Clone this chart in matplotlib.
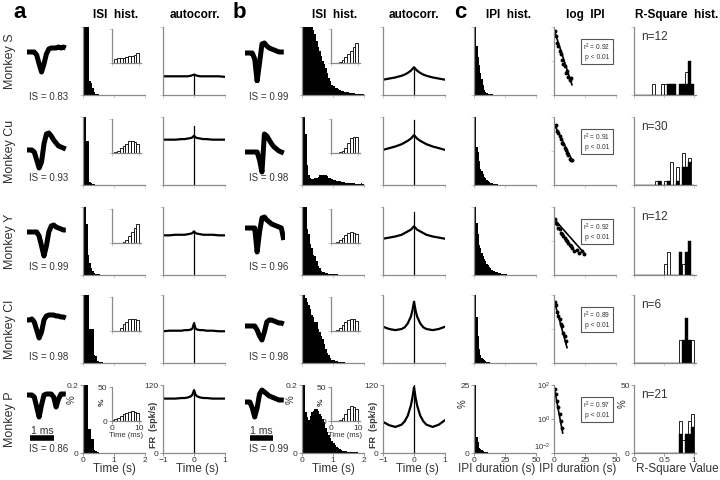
import matplotlib
matplotlib.use('Agg')
import numpy as np
import matplotlib.pyplot as plt
from matplotlib.lines import Line2D
from matplotlib.ticker import NullLocator, FixedLocator

plt.rcParams['font.family'] = ['Liberation Sans', 'DejaVu Sans']
plt.rcParams['mathtext.fontset'] = 'custom'
plt.rcParams['mathtext.rm'] = 'Liberation Sans'

# ---------------- data ----------------
monkeys = ['Monkey S', 'Monkey Cu', 'Monkey Y', 'Monkey Cl', 'Monkey P']
is_a = ['0.83', '0.93', '0.99', '0.98', '0.86']
is_b = ['0.99', '0.98', '0.96', '0.98', '0.99']
n_units = [12, 30, 12, 6, 21]
r2_fit = ['0.92', '0.91', '0.92', '0.89', '0.97']

wave_t = [0.0, 0.1, 0.2, 0.3, 0.4, 0.5, 0.6, 0.7, 0.8, 0.9, 1.0, 1.1, 1.2, 1.3, 1.4, 1.5, 1.6]
wave_a_S = [0, 0, 0, 0, -0.15, -0.6, -1.0, -0.6, -0.1, 0.15, 0.2, 0.2, 0.2, 0.25, 0.2, 0.25, 0.2]
wave_a_Cu = [0, 0, 0, -0.1, -0.5, -0.9, -0.6, 0.3, 0.8, 0.85, 0.7, 0.5, 0.35, 0.2, 0.15, 0.1, 0.05]
wave_a_Y = [0, 0, 0, 0, 0, -0.2, -0.7, -1.2, -0.7, 0, 0.3, 0.35, 0.25, 0.2, 0.15, 0.1, 0.1]
wave_a_Cl = [0, 0, 0.05, -0.1, -0.5, -0.9, -0.6, 0, 0.2, 0.25, 0.25, 0.25, 0.2, 0.2, 0.15, 0.15, 0.1]
wave_a_P = [0, 0, 0, -0.1, -0.6, -1.1, -0.5, 0, 0.05, 0.05, 0.05, -0.1, -0.6, -0.2, 0.05, 0.05, 0.05]
wave_b_S = [0, 0, 0, 0, -0.3, -1.4, -0.5, 0.45, 0.5, 0.35, 0.25, 0.2, 0.15, 0.1, 0.05, 0.05, 0.05]
wave_b_Cu = [0, 0, 0, 0, 0, 0, -0.4, -1.0, 0.9, 0.8, 0.6, 0.4, 0.25, 0.15, 0.05, 0, -0.05]
wave_b_Y = [0, 0, 0, 0, 0, -1.2, -0.2, 0.5, 0.55, 0.4, 0.3, 0.2, 0.15, 0.1, 0.05, 0, -0.6]
wave_b_Cl = [0, 0, 0, 0, 0, -0.2, -0.5, -0.7, -0.3, 0.2, 0.3, 0.3, 0.25, 0.2, 0.15, 0.15, 0.1]
wave_b_P = [0, 0, 0, -0.3, -0.75, -0.3, 0.4, 0.6, 0.5, 0.4, 0.3, 0.25, 0.2, 0.15, 0.1, 0.1, 0.1]

isi_bin = 0.05
isi_a_S = [0.2, 0.2, 0.2, 0.2, 0.04, 0.035, 0.02, 0.008, 0.004, 0.002, 0.001, 0.001, 0, 0, 0.001]
isi_a_Cu = [0.2, 0.2, 0.13, 0.13, 0.01, 0.006, 0.003, 0.002, 0.001]
isi_a_Y = [0.2, 0.2, 0.15, 0.06, 0.035, 0.02, 0.012, 0.006, 0.004, 0.003, 0.002]
isi_a_Cl = [0.2, 0.2, 0.2, 0.2, 0.1, 0.1, 0.1, 0.025, 0.02, 0.006, 0.004, 0.003, 0.002]
isi_a_P = [0.2, 0.2, 0.2, 0.07, 0.07, 0.04, 0.04, 0.01, 0.005, 0.002]
isi_b_S = [0.2, 0.2, 0.2, 0.2, 0.2, 0.2, 0.2, 0.19, 0.18, 0.16, 0.14, 0.13, 0.115, 0.1, 0.09, 0.08,
           0.065, 0.05, 0.04, 0.03, 0.027, 0.022, 0.02, 0.017, 0.015, 0.013, 0.012, 0.01, 0.01, 0.008,
           0.007, 0.006, 0.006, 0.005, 0.004, 0.004, 0.003, 0.003, 0.004, 0.002]
isi_b_Cu = [0.2, 0.2, 0.15, 0.06, 0.03, 0.02, 0.018, 0.018, 0.02, 0.022, 0.025, 0.028, 0.03, 0.03, 0.03,
            0.028, 0.026, 0.022, 0.02, 0.018, 0.016, 0.015, 0.013, 0.012, 0.011, 0.01, 0.009, 0.008,
            0.007, 0.007, 0.006, 0.006, 0.005, 0.005, 0.004, 0.004, 0.004, 0.003, 0.006, 0.002]
isi_b_Y = [0.2, 0.2, 0.2, 0.135, 0.12, 0.09, 0.08, 0.06, 0.055, 0.04, 0.026, 0.02, 0.012, 0.01, 0.008,
           0.006, 0.005, 0.004, 0.003, 0.003, 0.002, 0.002, 0.002]
isi_b_Cl = [0.2, 0.2, 0.19, 0.18, 0.17, 0.16, 0.14, 0.135, 0.12, 0.12, 0.1, 0.09, 0.08, 0.07, 0.055,
            0.04, 0.03, 0.024, 0.015, 0.01, 0.008, 0.006, 0.005, 0.004, 0.004, 0.003, 0.003, 0.002]
isi_b_P = [0.2, 0.2, 0.12, 0.105, 0.097, 0.11, 0.12, 0.125, 0.13, 0.13, 0.125, 0.115, 0.11, 0.1, 0.09,
           0.075, 0.062, 0.052, 0.044, 0.036, 0.03, 0.024, 0.018, 0.014, 0.011, 0.009, 0.007, 0.006,
           0.005, 0.004, 0.003, 0.003, 0.002, 0.002, 0.002, 0.002, 0.001]

ins_a_S = [0, 6, 7, 7, 8, 9, 10, 11, 12, 15]
ins_a_Cu = [0, 1, 3, 7, 11, 14, 17, 17, 16, 14]
ins_a_Y = [0, 0, 0, 0, 2, 5, 10, 16, 22, 28]
ins_a_Cl = [0, 0, 0, 4, 10, 14, 17, 18, 17, 16]
ins_a_P = [1, 3, 5, 8, 10, 12, 14, 15, 14, 12]
ins_b_S = [0, 0, 0, 1, 4, 9, 14, 18, 23, 29]
ins_b_Cu = [0, 0, 0, 1, 3, 8, 15, 22, 23, 23]
ins_b_Y = [0, 0, 1, 4, 8, 12, 15, 16, 15, 13]
ins_b_Cl = [0, 0, 1, 4, 9, 13, 16, 18, 17, 15]
ins_b_P = [0, 0, 0, 1, 5, 11, 18, 22, 21, 17]

ac_t = [-1, -0.8, -0.6, -0.4, -0.3, -0.2, -0.1, -0.05, 0, 0.05, 0.1, 0.2, 0.3, 0.4, 0.6, 0.8, 1]
ac_a_S = [33, 33, 33, 33, 33, 33, 34, 35, 36, 35, 34, 33, 33, 33, 33, 33, 32]
ac_a_Cu = [80, 80, 80, 81, 81, 82, 83, 84, 87, 84, 83, 82, 81, 81, 80, 80, 80]
ac_a_Y = [70, 70, 71, 71, 71, 72, 73, 74, 77, 74, 73, 72, 71, 71, 71, 70, 70]
ac_a_Cl = [56, 57, 57, 57, 58, 58, 59, 61, 70, 61, 59, 58, 58, 57, 57, 56, 56]
ac_a_P = [96, 96, 96, 97, 97, 98, 100, 103, 111, 103, 100, 98, 97, 97, 96, 96, 96]
ac_b_S = [27, 29, 31, 34, 36, 39, 43, 46, 49, 46, 43, 39, 36, 34, 31, 29, 27]
ac_b_Cu = [62, 65, 68, 72, 75, 78, 82, 85, 88, 85, 82, 78, 75, 72, 68, 65, 62]
ac_b_Y = [64, 66, 68, 71, 74, 77, 80, 83, 86, 83, 80, 77, 74, 71, 68, 66, 64]
ac_b_Cl = [64, 60, 58, 60, 63, 70, 82, 93, 108, 93, 82, 70, 63, 60, 58, 60, 64]
ac_b_P = [55, 49, 46, 50, 56, 66, 84, 98, 116, 98, 84, 66, 56, 50, 46, 50, 58]
ac_peak_a = [36, 104, 78, 72, 111]
ac_peak_b = [49, 115, 112, 110, 120]

ipi_bin = 1.0
ipi_S = [25, 25, 18, 14, 11, 8, 6, 3.5, 2, 1, 0.7, 0.5, 0.4, 0.3, 0.2]
ipi_Cu = [25, 25, 14, 12, 9, 6, 5, 4, 3, 2.5, 2, 1.5, 1, 0.8, 0.6, 0.5, 0.4, 0.3, 0.2]
ipi_Y = [25, 25, 19, 15, 11, 10, 8, 7, 6, 5, 4, 3.5, 3, 2.5, 2, 1.5, 1.5, 1, 1, 0.8, 0.7, 0.6,
         0.5, 0.5, 0.4, 0.3, 0.3]
ipi_Cl = [25, 25, 17, 10, 5, 3, 2, 1.5, 1, 0.6, 0.4, 0.3, 0.2]
ipi_P = [25, 25, 6, 4, 2, 1.5, 1, 0.6, 0.4, 0.3, 0.2]

log_x_S = [0.5, 1.5, 2.5, 3.5, 4.5, 5.5, 6.5, 7.5, 8.5, 9.5, 10.5, 11.5, 12.5, 13.5]
log_y_S = [60, 30, 12, 8, 4, 2.5, 1.2, 0.7, 0.5, 0.2, 0.25, 0.12, 0.08, 0.1]
log_x_Cu = [0.5, 1.5, 2.5, 3.5, 4.5, 5.5, 6.5, 7.5, 8.5, 9.5, 10.5, 11.5, 12.5, 13.5, 14.5]
log_y_Cu = [30, 35, 15, 12, 8, 5, 3, 2.5, 1.5, 1.2, 0.8, 0.6, 0.35, 0.3, 0.28]
log_x_Y = [0.5, 1.5, 2.5, 3.5, 4.5, 5.5, 6.5, 7.5, 8.5, 9.5, 10.5, 11.5, 12.5, 13.5, 14.5,
           16.5, 18.5, 20.5, 22.5, 24.5]
log_y_Y = [20, 12, 10, 6, 5, 3, 2.5, 2, 1.5, 1.2, 1, 0.8, 0.6, 0.5, 0.4, 0.25, 0.3, 0.2, 0.25, 0.18]
log_x_Cl = [0.5, 1.5, 2.5, 3.5, 4.5, 5.5, 6.5, 7.5, 8.5, 9.5]
log_y_Cl = [40, 25, 10, 6, 4, 2, 1.5, 0.6, 0.4, 0.2]
log_x_P = [0.5, 1.5, 2.5, 3.5, 4.5, 5.5, 6.5]
log_y_P = [60, 30, 12, 5, 2, 0.8, 0.3]
fit_x = [[0, 14.5], [0, 15], [0, 25], [0, 10.5], [0, 7]]
fit_y = [[70, 0.04], [40, 0.25], [20, 0.17], [50, 0.08], [80, 0.15]]

r2_bin = 0.05
r2_open_S = [0, 0, 0, 0, 0, 0, 8.3, 0, 0, 8.3, 8.3, 0, 0, 0, 0, 0, 0, 16.7, 0, 0]
r2_fill_S = [0, 0, 0, 0, 0, 0, 0, 0, 0, 0, 0, 8.3, 8.3, 8.3, 0, 8.3, 8.3, 8.3, 25, 8.3]
r2_open_Cu = [0, 0, 0, 0, 0, 0, 0, 3.3, 3.3, 0, 3.3, 3.3, 16.7, 0, 13.3, 0, 23.3, 13.3, 20, 0]
r2_fill_Cu = [0, 0, 0, 0, 0, 0, 0, 0, 3.3, 0, 0, 3.3, 0, 0, 3.3, 0, 13.3, 13.3, 16.7, 0]
r2_open_Y = [0, 0, 0, 0, 0, 0, 0, 0, 0, 0, 8.3, 16.7, 0, 0, 0, 0, 8.3, 0, 0, 0]
r2_fill_Y = [0, 0, 0, 0, 0, 0, 0, 0, 0, 0, 0, 0, 0, 0, 0, 16.7, 0, 16.7, 25, 0]
r2_open_Cl = [0, 0, 0, 0, 0, 0, 0, 0, 0, 0, 0, 0, 0, 0, 0, 16.7, 16.7, 16.7, 16.7, 16.7]
r2_fill_Cl = [0, 0, 0, 0, 0, 0, 0, 0, 0, 0, 0, 0, 0, 0, 0, 0, 16.7, 33.3, 16.7, 0]
r2_open_P = [0, 0, 0, 0, 0, 0, 0, 0, 0, 0, 0, 0, 0, 0, 0, 23.8, 9.5, 9.5, 23.8, 28.6]
r2_fill_P = [0, 0, 0, 0, 0, 0, 0, 0, 0, 0, 0, 0, 0, 0, 0, 14.3, 0, 14.3, 14.3, 19.0]

waves_a = [wave_a_S, wave_a_Cu, wave_a_Y, wave_a_Cl, wave_a_P]
waves_b = [wave_b_S, wave_b_Cu, wave_b_Y, wave_b_Cl, wave_b_P]
isis_a = [isi_a_S, isi_a_Cu, isi_a_Y, isi_a_Cl, isi_a_P]
isis_b = [isi_b_S, isi_b_Cu, isi_b_Y, isi_b_Cl, isi_b_P]
inss_a = [ins_a_S, ins_a_Cu, ins_a_Y, ins_a_Cl, ins_a_P]
inss_b = [ins_b_S, ins_b_Cu, ins_b_Y, ins_b_Cl, ins_b_P]
acs_a = [ac_a_S, ac_a_Cu, ac_a_Y, ac_a_Cl, ac_a_P]
acs_b = [ac_b_S, ac_b_Cu, ac_b_Y, ac_b_Cl, ac_b_P]
ipis = [ipi_S, ipi_Cu, ipi_Y, ipi_Cl, ipi_P]
logs_x = [log_x_S, log_x_Cu, log_x_Y, log_x_Cl, log_x_P]
logs_y = [log_y_S, log_y_Cu, log_y_Y, log_y_Cl, log_y_P]
r2s_open = [r2_open_S, r2_open_Cu, r2_open_Y, r2_open_Cl, r2_open_P]
r2s_fill = [r2_fill_S, r2_fill_Cu, r2_fill_Y, r2_fill_Cl, r2_fill_P]

# ---------------- layout ----------------
W, H = 720, 480
fig = plt.figure(figsize=(7.2, 4.8), dpi=100)


def fx(x):
    return x / W


def fy(y):
    return 1 - y / H


def rect(l, t, w, h):
    return [l / W, 1 - (t + h) / H, w / W, h / H]


row_tops = [27, 117, 207, 295, 385]
AH = 68
SPC = '#8a8a8a'
TXT = '#333333'
wave_base_a = [52, 150, 232, 320, 395]
wave_base_b = [53, 152, 228, 326, 402]
is_off = [70, 61, 60, 62, 64]


def style(ax, last):
    for s in ['top', 'right']:
        ax.spines[s].set_visible(False)
    for s in ['left', 'bottom']:
        ax.spines[s].set_color(SPC)
        ax.spines[s].set_linewidth(0.9)
    ax.tick_params(length=2, width=0.6, colors='#c8c8c8', labelcolor=TXT,
                   labelsize=6, pad=1)
    if last:
        ax.tick_params(colors=SPC, labelcolor=TXT)
    else:
        ax.tick_params(labelbottom=False, labelleft=False)


def ylab(ax, text, ypos=0.75, size=7, bold=False, xpos=-0.12):
    ax.set_ylabel(text, fontsize=size, color=TXT, fontweight='bold' if bold else 'normal')
    ax.yaxis.set_label_coords(xpos, ypos)


def xlab(ax, text, xpos=0.5):
    ax.set_xlabel(text, fontsize=8.5, color=TXT, labelpad=0)
    ax.xaxis.set_label_coords(xpos, -0.15)
    ax.xaxis.label.set_va('top')


for r in range(5):
    top = row_tops[r]
    last = (r == 4)

    # row label
    fig.text(fx(10), fy(top + 34), monkeys[r], rotation=90, ha='center', va='center',
             fontsize=9, color=TXT)

    # waveforms
    for (left, base, wv, isv, isx) in [(27, wave_base_a[r], waves_a[r], is_a[r], 68),
                                       (245, wave_base_b[r], waves_b[r], is_b[r], 288)]:
        axw = fig.add_axes(rect(left, base - 30, 40, 60))
        axw.plot(wave_t, wv, color='black', lw=3.6, solid_capstyle='butt',
                 solid_joinstyle='round')
        axw.set_xlim(0, 1.65)
        axw.set_ylim(-1.5, 1.5)
        axw.axis('off')
        fig.text(fx(isx), fy(top + is_off[r]), 'IS = ' + isv, ha='right', va='center',
                 fontsize=7, color=TXT)

    # ISI histograms with insets
    for (left, isi, ins) in [(83, isis_a[r], inss_a[r]), (302, isis_b[r], inss_b[r])]:
        ax = fig.add_axes(rect(left, top, 62, AH))
        edges = np.arange(len(isi)) * isi_bin
        ax.bar(edges, isi, width=isi_bin, align='edge', color='black', lw=0)
        ax.set_xlim(0, 2)
        ax.set_ylim(0, 0.2)
        ax.set_xticks([0, 1, 2])
        ax.set_yticks([0, 0.2])
        ax.set_yticklabels(['0', '0.2'])
        style(ax, last)
        if last:
            xlab(ax, 'Time (s)', 0.5)
            ylab(ax, '%', ypos=0.78, xpos=-0.1)
        iax = ax.inset_axes([0.46, 0.47, 0.47, 0.5])
        iax.bar(np.arange(len(ins)), ins, width=1, align='edge', facecolor='white',
                edgecolor='black', lw=0.6)
        iax.set_xlim(0, 10.5)
        iax.set_ylim(0, 50)
        iax.set_xticks([0, 10])
        iax.set_yticks([0, 50])
        style(iax, last)
        if last:
            iax.tick_params(labelsize=6)
            iax.set_xlabel('Time (ms)', fontsize=5.5, color=TXT, labelpad=0)
            ylab(iax, '%', ypos=0.55, size=6, bold=True, xpos=-0.2)

    # autocorrelograms
    for (left, ac, pk) in [(163, acs_a[r], ac_peak_a[r]), (383, acs_b[r], ac_peak_b[r])]:
        ax = fig.add_axes(rect(left, top, 62, AH))
        ax.plot(ac_t, ac, color='black', lw=1.6)
        ax.plot([0, 0], [0, pk], color='black', lw=0.9)
        ax.set_xlim(-1, 1)
        ax.set_ylim(0, 120)
        ax.set_xticks([-1, 0, 1])
        ax.set_yticks([0, 120])
        style(ax, last)
        if last:
            xlab(ax, 'Time (s)', 0.56)
            ylab(ax, 'FR  (spk/s)', ypos=0.42, size=6.5, bold=True, xpos=-0.08)

    # IPI histogram
    ax = fig.add_axes(rect(474, top, 62, AH))
    ipi = ipis[r]
    ax.bar(np.arange(len(ipi)) * ipi_bin, ipi, width=ipi_bin, align='edge', color='black', lw=0)
    ax.set_xlim(0, 50)
    ax.set_ylim(0, 25)
    ax.set_xticks([0, 25, 50])
    ax.set_yticks([0, 25])
    style(ax, last)
    if last:
        xlab(ax, 'IPI duration (s)', 0.36)
        ylab(ax, '%', ypos=0.72, xpos=-0.1)

    # log IPI
    ax = fig.add_axes(rect(554, top, 62, AH))
    ax.set_yscale('log')
    ax.plot(fit_x[r], fit_y[r], color='black', lw=1.2)
    ax.plot(logs_x[r], logs_y[r], 'o', color='black', ms=1.8)
    ax.set_xlim(0, 50)
    ax.set_ylim(1e-2, 1e2)
    ax.set_xticks([0, 25, 50])
    ax.yaxis.set_major_locator(FixedLocator([1e-2, 1, 1e2]))
    ax.yaxis.set_minor_locator(NullLocator())
    style(ax, last)
    ax.text(0.69, 0.64, 'r$^2$ = ' + r2_fit[r] + '\np < 0.01', transform=ax.transAxes,
            fontsize=4.8, ha='center', va='center', color=TXT, linespacing=1.3,
            bbox=dict(boxstyle='square,pad=0.35', fc='white', ec='#555555', lw=0.8))
    if last:
        ax.tick_params(axis='y', labelsize=5.5, pad=0.5)
        xlab(ax, 'IPI duration (s)', 0.38)
        fig.canvas.draw()
        ylabels = ax.get_yticklabels()
        if ylabels:
            ylabels[0].set_va('bottom')

    # R-square histogram
    ax = fig.add_axes(rect(634, top, 62, AH))
    e = np.arange(len(r2s_open[r])) * r2_bin
    ax.bar(e, r2s_open[r], width=r2_bin, align='edge', facecolor='white', edgecolor='black', lw=0.6)
    ax.bar(e, r2s_fill[r], width=r2_bin, align='edge', facecolor='black', edgecolor='black', lw=0.3)
    ax.set_xlim(0, 1.03)
    ax.set_ylim(0, 50)
    ax.set_xticks([0, 0.5, 1])
    ax.set_xticklabels(['0', '0.5', '1'])
    ax.set_yticks([0, 50])
    style(ax, last)
    ax.text(0.12, 0.86, 'n=%d' % n_units[r], transform=ax.transAxes, fontsize=8.5,
            ha='left', va='center', color=TXT)
    if last:
        xlab(ax, 'R-Square Value', 0.7)
        ylab(ax, '%', ypos=0.72, xpos=-0.1)

# scale bars (1 ms) under bottom-row waveforms
for (x0, x1, tx) in [(30, 54, 42), (250, 273, 261)]:
    fig.add_artist(Line2D([fx(x0), fx(x1)], [fy(438), fy(438)], color='black', lw=4,
                          solid_capstyle='butt'))
    fig.text(fx(tx), fy(431), '1 ms', ha='center', va='center', fontsize=7.5, color=TXT)

# column titles and panel letters
titles = [(116, 'ISI  hist.'), (195, 'autocorr.'), (335, 'ISI  hist.'), (414, 'autocorr.'),
          (508, 'IPI  hist.'), (585, 'log  IPI'), (677, 'R-Square  hist.')]
for x, t in titles:
    fig.text(fx(x), fy(15), t, ha='center', va='center', fontsize=8.5, fontweight='bold')
for x, t in [(20, 'a'), (239, 'b'), (460, 'c')]:
    fig.text(fx(x), fy(13), t, ha='center', va='center', fontsize=16, fontweight='bold')

fig.savefig('out.png', dpi=100)
